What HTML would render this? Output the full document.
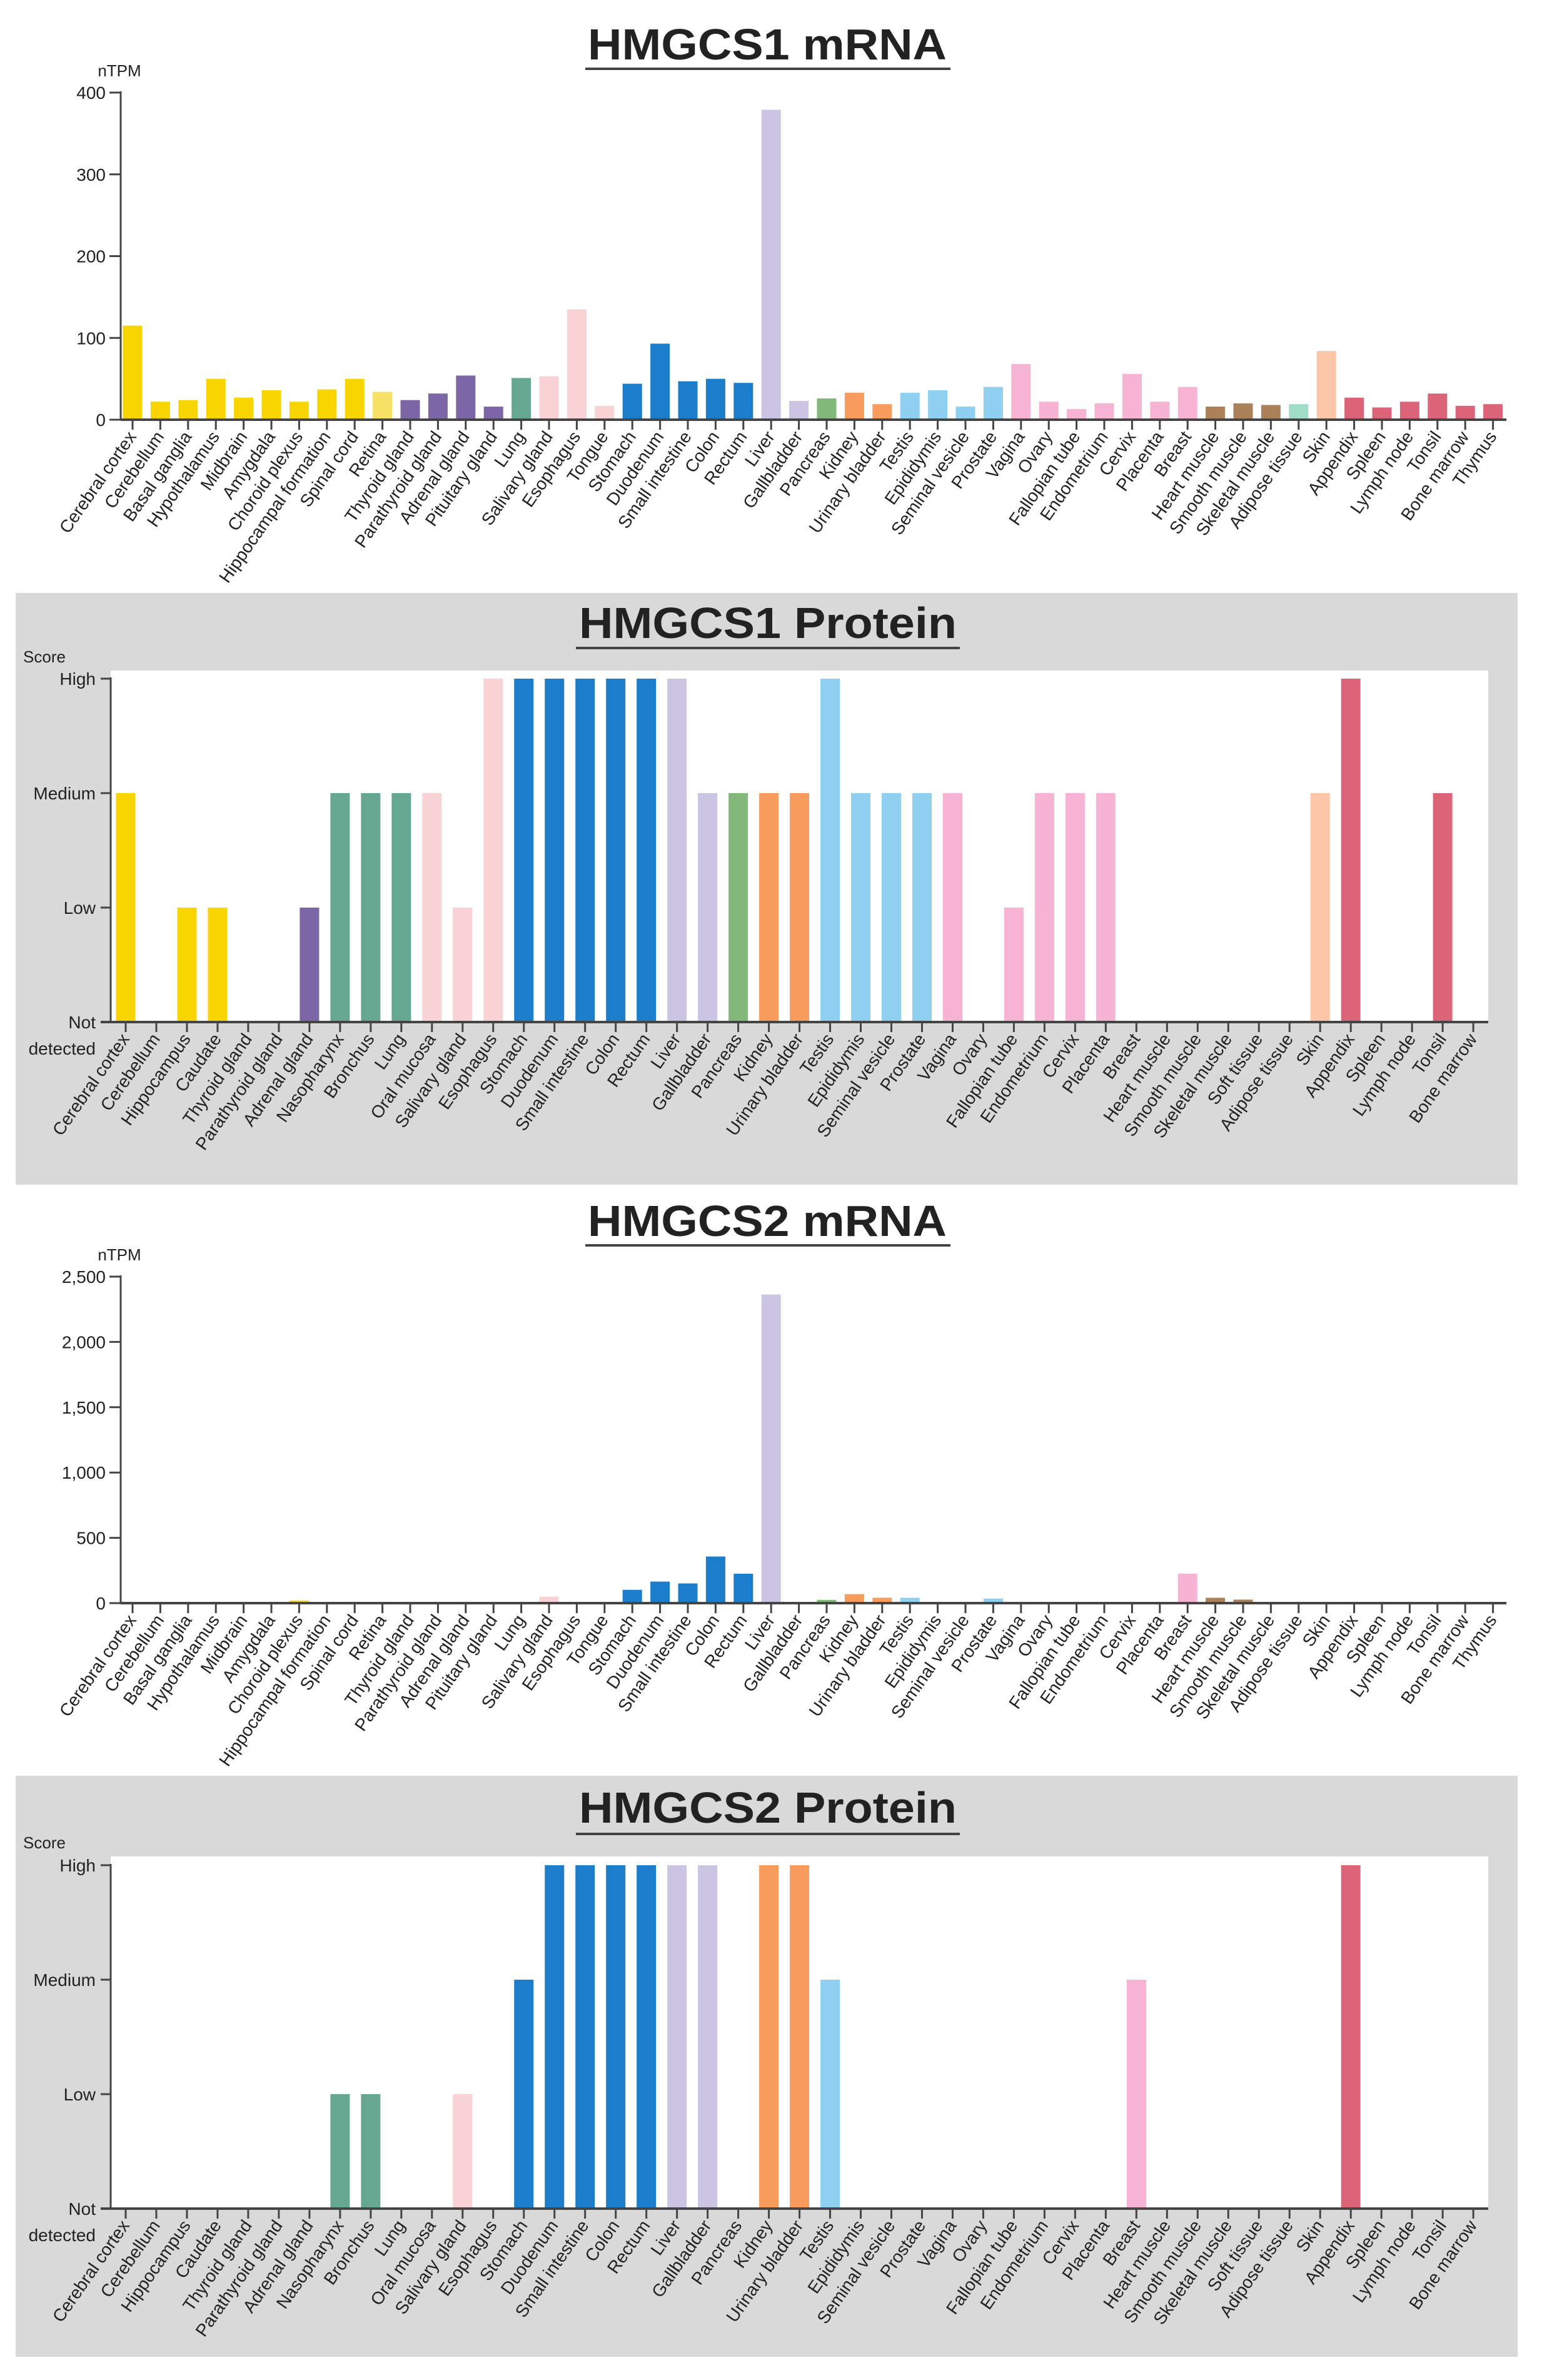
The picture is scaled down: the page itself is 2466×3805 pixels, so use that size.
<!DOCTYPE html>
<html><head><meta charset="utf-8">
<style>
html,body{margin:0;padding:0;background:#fff;}
svg{display:block;}
text{font-family:"Liberation Sans",Arial,sans-serif;fill:#222;}
</style></head>
<body>
<svg id="fig" width="2466" height="3805" viewBox="0 0 2466 3805" xmlns="http://www.w3.org/2000/svg">
<rect x="0" y="0" width="2466" height="3805" fill="#fff"/>
<rect x="25" y="948" width="2402" height="946" fill="#d9d9d9"/>
<rect x="25" y="2839" width="2402" height="929" fill="#d9d9d9"/>
<g id="layer"></g>
</svg>
<script>
// ---- data ----
const mrnaTissues = ["Cerebral cortex","Cerebellum","Basal ganglia","Hypothalamus","Midbrain","Amygdala","Choroid plexus","Hippocampal formation","Spinal cord","Retina","Thyroid gland","Parathyroid gland","Adrenal gland","Pituitary gland","Lung","Salivary gland","Esophagus","Tongue","Stomach","Duodenum","Small intestine","Colon","Rectum","Liver","Gallbladder","Pancreas","Kidney","Urinary bladder","Testis","Epididymis","Seminal vesicle","Prostate","Vagina","Ovary","Fallopian tube","Endometrium","Cervix","Placenta","Breast","Heart muscle","Smooth muscle","Skeletal muscle","Adipose tissue","Skin","Appendix","Spleen","Lymph node","Tonsil","Bone marrow","Thymus"];
const mrnaGroups = ["brain","brain","brain","brain","brain","brain","brain","brain","brain","retina","endo","endo","endo","endo","lung","oral","oral","oral","gi","gi","gi","gi","gi","liver","liver","panc","kid","kid","male","male","male","male","fem","fem","fem","fem","fem","fem","fem","muscle","muscle","muscle","adip","skin","lymph","lymph","lymph","lymph","lymph","lymph"];
const hmgcs1Mrna = [115,22,24,50,27,36,22,37,50,34,24,32,54,16,51,53,135,17,44,93,47,50,45,379,23,26,33,19,33,36,16,40,68,22,13,20,56,22,40,16,20,18,19,84,27,15,22,32,17,19];
const hmgcs2Mrna = [0,0,0,0,0,0,20,0,0,0,0,0,0,0,0,50,0,0,102,165,151,357,225,2363,5,25,69,41,41,0,0,35,0,0,0,0,0,0,225,41,27,8,0,5,5,0,0,0,0,0];
const mrna1Ticks = [0,100,200,300,400];
const mrna1TickLabels = ["0","100","200","300","400"];
const mrna2Ticks = [0,500,1000,1500,2000,2500];
const mrna2TickLabels = ["0","500","1,000","1,500","2,000","2,500"];

const proteinTissues = ["Cerebral cortex","Cerebellum","Hippocampus","Caudate","Thyroid gland","Parathyroid gland","Adrenal gland","Nasopharynx","Bronchus","Lung","Oral mucosa","Salivary gland","Esophagus","Stomach","Duodenum","Small intestine","Colon","Rectum","Liver","Gallbladder","Pancreas","Kidney","Urinary bladder","Testis","Epididymis","Seminal vesicle","Prostate","Vagina","Ovary","Fallopian tube","Endometrium","Cervix","Placenta","Breast","Heart muscle","Smooth muscle","Skeletal muscle","Soft tissue","Adipose tissue","Skin","Appendix","Spleen","Lymph node","Tonsil","Bone marrow"];
const proteinGroups = ["brain","brain","brain","brain","endo","endo","endo","lung","lung","lung","oral","oral","oral","gi","gi","gi","gi","gi","liver","liver","panc","kid","kid","male","male","male","male","fem","fem","fem","fem","fem","fem","fem","muscle","muscle","muscle","adip","adip","skin","lymph","lymph","lymph","lymph","lymph"];
// 0 = Not detected, 1 = Low, 2 = Medium, 3 = High
const hmgcs1Protein = [2,0,1,1,0,0,1,2,2,2,2,1,3,3,3,3,3,3,3,2,2,2,2,3,2,2,2,2,0,1,2,2,2,0,0,0,0,0,0,2,3,0,0,2,0];
const hmgcs2Protein = [0,0,0,0,0,0,0,1,1,0,0,1,0,2,3,3,3,3,3,3,0,3,3,2,0,0,0,0,0,0,0,0,0,2,0,0,0,0,0,0,3,0,0,0,0];
const proteinLevels = [0,1,2,3];
const proteinLevelLabels = ["Not","Low","Medium","High"];

const groupColor = {brain:"#f9d500",retina:"#f6e066",endo:"#7c66a5",lung:"#65a790",oral:"#f9d2d5",gi:"#1c7ecb",liver:"#cbc5e3",panc:"#83b87b",kid:"#f89c5d",male:"#8fd0f1",fem:"#f7b3d4",muscle:"#aa8159",adip:"#a1dcc6",skin:"#fbc6a8",lymph:"#dc6479"};

// ---- helpers ----
const NS = "http://www.w3.org/2000/svg";
const layer = document.getElementById("layer");
function mk(tag, attrs, parent){
  const e = document.createElementNS(NS, tag);
  for (const k in attrs) e.setAttribute(k, attrs[k]);
  (parent||layer).appendChild(e);
  return e;
}
function slug(s){return s.toLowerCase().replace(/[^a-z0-9]+/g,"-");}

function title(txt, cx, cy, ulY, x1, x2, name){
  const t = mk("text",{x:cx,y:cy,"text-anchor":"middle","font-size":70,"font-weight":"bold",textLength:x2-x1-10,lengthAdjust:"spacingAndGlyphs",fill:"#111"});
  t.textContent = txt;
  
  
  const l = mk("line",{x1:x1,x2:x2,y1:ulY,y2:ulY,stroke:"#444","stroke-width":4});
  
  
}

function xLabels(cats, x0, pitch, y0, name){
  cats.forEach((c,i)=>{
    const cx = x0 + i*pitch;
    const tk = mk("line",{x1:cx,x2:cx,y1:y0,y2:y0+16,stroke:"#444","stroke-width":3});
    
    
    const tx = cx+7, ty = y0+27;
    const t = mk("text",{x:tx,y:ty,"text-anchor":"end","font-size":28,transform:`rotate(-55 ${tx} ${ty})`});
    t.textContent = c;
    
    
  });
}

function mrnaChart(o){
  const {cats, vals, groups, ticks, tickLabels, axisX, y0, yTop, vmax, x0, pitch, xEnd, name} = o;
  const ys = v => y0 - (v/vmax)*(y0-yTop);
  const unit = mk("text",{x:axisX-2,y:yTop-26,"text-anchor":"middle","font-size":26});
  unit.textContent = "nTPM";
  
  
  ticks.forEach((v,i)=>{
    const y = ys(v);
    const tl = mk("line",{x1:axisX-18,x2:axisX,y1:y,y2:y,stroke:"#444","stroke-width":3});
    
    
    const t = mk("text",{x:axisX-24,y:y+10,"text-anchor":"end","font-size":28});
    t.textContent = tickLabels[i];
    
    
  });
  vals.forEach((v,i)=>{
    if (v<=0) return;
    const cx = x0 + i*pitch;
    const r = mk("rect",{x:cx-15.5,y:ys(v),width:31,height:y0-ys(v),fill:groupColor[groups[i]]});
    
    
  });
  const ya = mk("line",{x1:axisX,x2:axisX,y1:yTop-2,y2:y0,stroke:"#444","stroke-width":3});
  
  
  const xa = mk("line",{x1:axisX,x2:xEnd,y1:y0,y2:y0,stroke:"#444","stroke-width":4});
  
  
  xLabels(cats, x0, pitch, y0, name);
}

function proteinChart(o){
  const {cats, vals, groups, axisX, plotTop, yHigh, y0, x0, pitch, xEnd, name} = o;
  const ys = v => y0 - (v/3)*(y0-yHigh);
  const bg = mk("rect",{x:axisX,y:plotTop,width:xEnd-axisX,height:y0-plotTop,fill:"#fff"});
  
  
  const sc = mk("text",{x:axisX-106,y:plotTop-13,"text-anchor":"middle","font-size":26});
  sc.textContent = "Score";
  
  
  proteinLevels.forEach((v,i)=>{
    const y = ys(v);
    const tl = mk("line",{x1:axisX-16,x2:axisX,y1:y,y2:y,stroke:"#444","stroke-width":3});
    
    
    const t = mk("text",{x:axisX-24,y:y+10,"text-anchor":"end","font-size":28});
    t.textContent = proteinLevelLabels[i];
    
    
  });
  const det = mk("text",{x:axisX-24,y:y0+52,"text-anchor":"end","font-size":28});
  det.textContent = "detected";
  
  
  vals.forEach((v,i)=>{
    if (v<=0) return;
    const cx = x0 + i*pitch;
    const r = mk("rect",{x:cx-15.5,y:ys(v),width:31,height:y0-ys(v),fill:groupColor[groups[i]]});
    
    
  });
  const ya = mk("line",{x1:axisX,x2:axisX,y1:yHigh-2,y2:y0,stroke:"#444","stroke-width":3});
  
  
  const xa = mk("line",{x1:axisX-16,x2:xEnd,y1:y0,y2:y0,stroke:"#444","stroke-width":4});
  
  
  xLabels(cats, x0, pitch, y0, name);
}

// ---- charts ----
title("HMGCS1 mRNA", 1227, 95, 110, 936, 1520, "hmgcs1-mrna");
mrnaChart({cats:mrnaTissues, vals:hmgcs1Mrna, groups:mrnaGroups, ticks:mrna1Ticks, tickLabels:mrna1TickLabels, axisX:193, y0:671, yTop:148, vmax:400, x0:212, pitch:44.4, xEnd:2409, name:"hmgcs1-mrna"});

title("HMGCS1 Protein", 1228, 1020, 1036, 921, 1535, "hmgcs1-protein");
proteinChart({cats:proteinTissues, vals:hmgcs1Protein, groups:proteinGroups, axisX:177, plotTop:1072, yHigh:1085, y0:1634, x0:201, pitch:48.98, xEnd:2380, name:"hmgcs1-protein"});

title("HMGCS2 mRNA", 1227, 1976, 1991, 936, 1520, "hmgcs2-mrna");
mrnaChart({cats:mrnaTissues, vals:hmgcs2Mrna, groups:mrnaGroups, ticks:mrna2Ticks, tickLabels:mrna2TickLabels, axisX:193, y0:2563, yTop:2041, vmax:2500, x0:212, pitch:44.4, xEnd:2409, name:"hmgcs2-mrna"});

title("HMGCS2 Protein", 1228, 2914, 2932, 921, 1535, "hmgcs2-protein");
proteinChart({cats:proteinTissues, vals:hmgcs2Protein, groups:proteinGroups, axisX:177, plotTop:2968, yHigh:2982, y0:3531, x0:201, pitch:48.98, xEnd:2380, name:"hmgcs2-protein"});
</script>
</body></html>
